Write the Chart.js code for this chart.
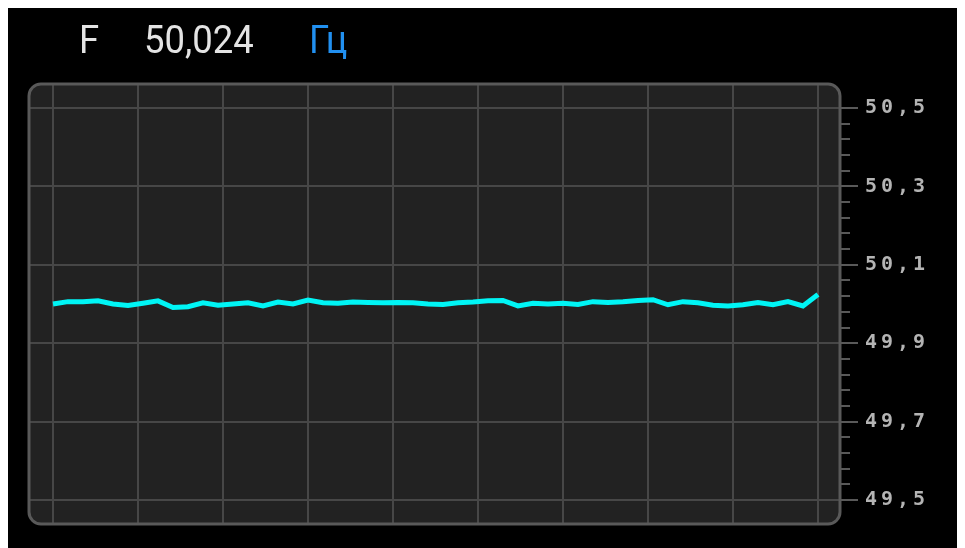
<!DOCTYPE html>
<html>
<head>
<meta charset="utf-8">
<script src="https://cdn.jsdelivr.net/npm/chart.js@4/dist/chart.umd.min.js"></script>
<style>
    body { margin: 8px; background: #fff; }
    #screen { position: relative; width: 949px; height: 540px; background: #000; overflow: hidden; }
    #screen canvas { position: absolute; left: 0; top: 0; }
    .hdr { position: absolute; top: 13px; font-family: Roboto, sans-serif; font-size: 38px; line-height: 38px;
           color: #e4e4e4; transform: scaleX(0.96); transform-origin: left top; white-space: nowrap; }
    .hdr.unit { color: #2190f0; }
</style>
</head>
<body>
<div id="screen">
    <canvas id="freqChart" width="949" height="540"></canvas>
    <div class="hdr" style="left: 71px;">F</div>
    <div class="hdr" style="left: 136px;" id="current">50,024</div>
    <div class="hdr unit" style="left: 301px;">Гц</div>
</div>
<script>
// frequency samples, Hz (oldest -> newest)
const freqValues = [
    50.000, 50.006, 50.006, 50.008, 50.000, 49.996, 50.002, 50.008, 49.991, 49.993,
    50.003, 49.997, 50.000, 50.003, 49.995, 50.005, 50.000, 50.010, 50.003, 50.002,
    50.005, 50.004, 50.003, 50.004, 50.003, 50.000, 49.999, 50.003, 50.005, 50.008,
    50.009, 49.995, 50.002, 50.000, 50.002, 49.999, 50.006, 50.004, 50.006, 50.009,
    50.011, 49.998, 50.006, 50.003, 49.997, 49.995, 49.998, 50.004, 49.998, 50.006,
    49.995, 50.024
];
const sampleIndex = freqValues.map((v, i) => i);
const yTicks = [49.5, 49.7, 49.9, 50.1, 50.3, 50.5];
const minorStep = 0.04;
const xDivisions = 9;

const GRID = '#474747';
const BORDER = '#595959';

function roundRect(ctx, x, y, w, h, r) {
    ctx.beginPath();
    ctx.moveTo(x + r, y);
    ctx.arcTo(x + w, y, x + w, y + h, r);
    ctx.arcTo(x + w, y + h, x, y + h, r);
    ctx.arcTo(x, y + h, x, y, r);
    ctx.arcTo(x, y, x + w, y, r);
    ctx.closePath();
}

const panelPlugin = {
    id: 'panel',
    beforeDraw(chart) {
        const { ctx, chartArea: a } = chart;
        ctx.save();
        roundRect(ctx, a.left, a.top, a.right - a.left, a.bottom - a.top, 12);
        ctx.fillStyle = '#222222';
        ctx.fill();
        ctx.restore();
        // wide spacing for the axis digits
        ctx.letterSpacing = '4px';
    },
    afterDraw(chart) {
        const { ctx, chartArea: a, scales } = chart;
        ctx.letterSpacing = '0px';
        ctx.save();
        // minor ticks on the right axis
        const y = scales.y;
        ctx.strokeStyle = BORDER;
        ctx.lineWidth = 2;
        for (let v = yTicks[0]; v < yTicks[yTicks.length - 1]; v += minorStep) {
            const py = Math.round(y.getPixelForValue(v));
            ctx.beginPath();
            ctx.moveTo(a.right, py);
            ctx.lineTo(a.right + 10, py);
            ctx.stroke();
        }
        roundRect(ctx, a.left, a.top, a.right - a.left, a.bottom - a.top, 12);
        ctx.lineWidth = 3;
        ctx.strokeStyle = BORDER;
        ctx.stroke();
        ctx.restore();
    }
};

new Chart(document.getElementById('freqChart'), {
    type: 'line',
    data: {
        datasets: [{
            data: freqValues.map((v, i) => ({ x: sampleIndex[i], y: v })),
            borderColor: '#00f5f5',
            borderWidth: 5,
            pointRadius: 0,
            tension: 0,
            fill: false
        }]
    },
    options: {
        responsive: false,
        animation: false,
        layout: { padding: { left: 21, top: 76, bottom: 24, right: 0 } },
        plugins: { legend: { display: false }, tooltip: { enabled: false } },
        scales: {
            x: {
                type: 'linear',
                min: -1.6,
                max: sampleIndex[sampleIndex.length - 1] + 1.47,
                afterBuildTicks: axis => {
                    const last = sampleIndex[sampleIndex.length - 1];
                    axis.ticks = Array.from({ length: xDivisions + 1 }, (_, k) => ({ value: k * last / xDivisions }));
                },
                afterFit: axis => { axis.height = 0; },
                ticks: { display: false },
                grid: { color: GRID, lineWidth: 2, drawTicks: false },
                border: { display: false }
            },
            y: {
                position: 'right',
                min: 49.5 - 0.0612,
                max: 50.5 + 0.0612,
                afterBuildTicks: axis => { axis.ticks = yTicks.map(v => ({ value: v })); },
                afterFit: axis => { axis.width = 117; },
                ticks: {
                    color: '#b4b4b4',
                    padding: 7,
                    font: { family: 'DejaVu Sans Mono', size: 20, weight: 'bold' },
                    callback: v => v.toFixed(1).replace('.', ',')
                },
                grid: { color: GRID, lineWidth: 2, tickLength: 18, tickColor: BORDER, tickWidth: 2 },
                border: { display: false }
            }
        }
    },
    plugins: [panelPlugin]
});
</script>
</body>
</html>
